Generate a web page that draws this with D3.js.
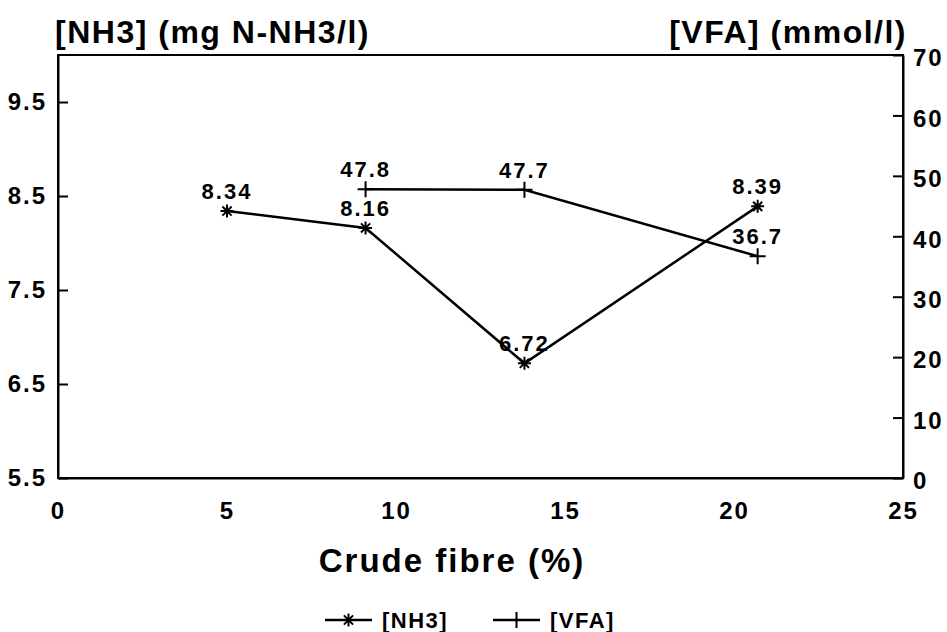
<!DOCTYPE html>
<html>
<head>
<meta charset="utf-8">
<script src="https://cdn.jsdelivr.net/npm/d3@7"></script>
<style>
  html, body { margin: 0; padding: 0; background: #fff; }
  svg { display: block; }
  text { font-family: "Liberation Sans", Arial, Helvetica, sans-serif; font-weight: bold; fill: #000; }
</style>
</head>
<body>
<div id="chart"></div>
<script>
// ---- data ----
const nh3X = [5.0, 9.1, 13.8, 20.7];
const nh3Values = [8.34, 8.16, 6.72, 8.39];
const vfaX = [9.1, 13.8, 20.7];
const vfaValues = [47.8, 47.7, 36.7];
const xTicks = [0, 5, 10, 15, 20, 25];
const leftTicks = [5.5, 6.5, 7.5, 8.5, 9.5];
const rightTicks = [0, 10, 20, 30, 40, 50, 60, 70];
const leftTitle = "[NH3] (mg N-NH3/l)";
const rightTitle = "[VFA] (mmol/l)";
const xTitle = "Crude fibre (%)";
const seriesNames = ["[NH3]", "[VFA]"];

const W = 947, H = 632;
const m = { left: 58, right: 44, top: 55, bottom: 154 };
const iw = W - m.left - m.right, ih = H - m.top - m.bottom;

const svg = d3.select("#chart").append("svg").attr("width", W).attr("height", H);
const g = svg.append("g").attr("transform", `translate(${m.left},${m.top})`);

const x = d3.scaleLinear().domain([0, 25]).range([0, iw]);
const yL = d3.scaleLinear().domain([5.5, 10]).range([ih, 0]);
const yR = d3.scaleLinear().domain([0, 70]).range([ih, 0]);

// frame
g.append("rect").attr("x", 0).attr("y", 0).attr("width", iw).attr("height", ih)
  .attr("fill", "none").attr("stroke", "#000").attr("stroke-width", 2);

const fmt = d => d3.format(".1f")(d);
const ax = g.append("g").call(d3.axisLeft(yL).tickValues(leftTicks).tickFormat(fmt).tickSize(-10).tickSizeOuter(0).tickPadding(11));
const axR = g.append("g").attr("transform", `translate(${iw},0)`).call(d3.axisRight(yR).tickValues(rightTicks).tickSize(-10).tickSizeOuter(0).tickPadding(10));
const axB = g.append("g").attr("transform", `translate(0,${ih})`).call(d3.axisBottom(x).tickValues(xTicks).tickSize(0).tickSizeOuter(0).tickPadding(24));
[ax, axR, axB].forEach(a => {
  a.select(".domain").attr("stroke", "#000").attr("stroke-width", 2);
  a.selectAll(".tick line").attr("stroke", "#000").attr("stroke-width", 2);
  a.selectAll(".tick text").attr("font-size", 24).attr("letter-spacing", 2)
    .attr("font-family", "'Liberation Sans', Arial, sans-serif").attr("font-weight", "bold").attr("fill", "#000");
});
axR.selectAll(".tick text").attr("dy", "0.45em");

// titles
svg.append("text").attr("x", 55).attr("y", 43).attr("font-size", 32).attr("letter-spacing", 1.5).text(leftTitle);
svg.append("text").attr("x", 907).attr("y", 43).attr("font-size", 32).attr("letter-spacing", 1.5).attr("text-anchor", "end").text(rightTitle);
svg.append("text").attr("x", 452).attr("y", 572).attr("font-size", 33).attr("letter-spacing", 2).attr("text-anchor", "middle").text(xTitle);

// markers
function asterisk(r) {
  const p = d3.path();
  for (let i = 0; i < 4; i++) {
    const a = i * Math.PI / 4;
    p.moveTo(-r * Math.cos(a), -r * Math.sin(a));
    p.lineTo(r * Math.cos(a), r * Math.sin(a));
  }
  return p.toString();
}
function plus(r) {
  const p = d3.path();
  p.moveTo(-r, 0); p.lineTo(r, 0); p.moveTo(0, -r); p.lineTo(0, r);
  return p.toString();
}

const nh3 = nh3X.map((d, i) => ({ x: d, y: nh3Values[i] }));
const vfa = vfaX.map((d, i) => ({ x: d, y: vfaValues[i] }));

const lineL = d3.line().x(d => x(d.x)).y(d => yL(d.y));
const lineR = d3.line().x(d => x(d.x)).y(d => yR(d.y));

g.append("path").datum(nh3).attr("d", lineL).attr("fill", "none").attr("stroke", "#000").attr("stroke-width", 2.5);
g.append("path").datum(vfa).attr("d", lineR).attr("fill", "none").attr("stroke", "#000").attr("stroke-width", 2.5);

g.selectAll(".m1").data(nh3).join("path").attr("class", "m1")
  .attr("transform", d => `translate(${x(d.x)},${yL(d.y)})`).attr("d", asterisk(6.5))
  .attr("stroke", "#000").attr("stroke-width", 2).attr("fill", "none");
g.selectAll(".m2").data(vfa).join("path").attr("class", "m2")
  .attr("transform", d => `translate(${x(d.x)},${yR(d.y)})`).attr("d", plus(8))
  .attr("stroke", "#000").attr("stroke-width", 2).attr("fill", "none");

g.selectAll(".l1").data(nh3).join("text").attr("class", "l1")
  .attr("x", d => x(d.x)).attr("y", d => yL(d.y) - 12)
  .attr("text-anchor", "middle").attr("font-size", 22).attr("letter-spacing", 2)
  .text(d => d3.format(".2f")(d.y));
g.selectAll(".l2").data(vfa).join("text").attr("class", "l2")
  .attr("x", d => x(d.x)).attr("y", d => yR(d.y) - 12)
  .attr("text-anchor", "middle").attr("font-size", 22).attr("letter-spacing", 2)
  .text(d => d3.format(".1f")(d.y));

// legend
const ly = 620;
const leg = svg.append("g");
const items = [
  { name: seriesNames[0], x0: 325, marker: asterisk(6.5) },
  { name: seriesNames[1], x0: 493, marker: plus(8) }
];
items.forEach(it => {
  leg.append("line").attr("x1", it.x0).attr("x2", it.x0 + 47).attr("y1", ly).attr("y2", ly)
    .attr("stroke", "#000").attr("stroke-width", 2.5);
  leg.append("path").attr("transform", `translate(${it.x0 + 23.5},${ly})`).attr("d", it.marker)
    .attr("stroke", "#000").attr("stroke-width", 2).attr("fill", "none");
  leg.append("text").attr("x", it.x0 + 57).attr("y", ly + 8).attr("font-size", 22).attr("letter-spacing", 1.5).text(it.name);
});
</script>
</body>
</html>
